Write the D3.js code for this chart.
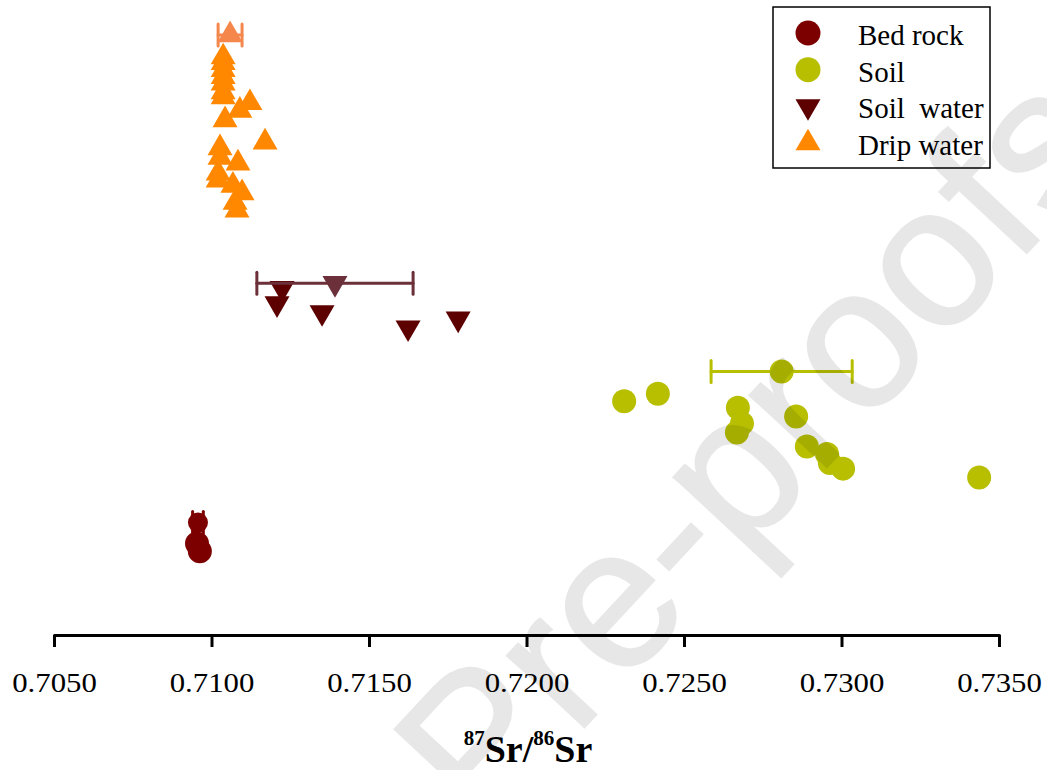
<!DOCTYPE html>
<html>
<head>
<meta charset="utf-8">
<script src="https://cdn.jsdelivr.net/npm/d3@7"></script>
<style>
    body { margin: 0; background: #fff; }
    svg text { font-family: "Liberation Serif", "Times New Roman", serif; }
</style>
</head>
<body>
<div id="wrapper"></div>
<script>
// 87Sr/86Sr ratios (x) and an arbitrary plotting level (y, 0 = axis, 100 = top)
const seriesNames = ['Bed rock', 'Soil', 'Soil  water', 'Drip water'];
const seriesColors = ['#7d0000', '#b7bf00', '#5c0000', '#ff8800'];
const meanColors = ['#7d0000', '#b7bf00', '#6b3039', '#f5874c'];

const bedRockRatio = [0.70954, 0.70963];
const bedRockLevel = [14.4, 13.2];

const soilRatio = [0.72310, 0.72417, 0.72671, 0.72684, 0.72668, 0.72856, 0.72890, 0.72954, 0.72963, 0.73005, 0.73437];
const soilLevel = [36.8, 38.0, 35.8, 33.3, 31.9, 34.4, 29.7, 28.5, 27.1, 26.2, 24.8];

const soilWaterRatio = [0.71224, 0.71208, 0.71351, 0.71624, 0.71783];
const soilWaterLevel = [54.6, 52.2, 50.8, 48.4, 49.8];

const dripRatio = [0.71037, 0.71037, 0.71037, 0.71037, 0.71037, 0.71037, 0.71037, 0.71122, 0.71090, 0.71043,
    0.71170, 0.71027, 0.71027, 0.71084, 0.71021, 0.71021, 0.71068, 0.71097, 0.71075, 0.71081];
const dripLevel = [91.0, 90.1, 89.0, 87.9, 86.9, 85.5, 84.7, 83.8, 82.6, 81.1,
    77.6, 76.7, 75.2, 74.3, 72.7, 71.6, 70.8, 69.6, 68.1, 66.9];

// group means with error (+/-) in the same order as seriesNames
const meanRatio = [0.70957, 0.72810, 0.71392, 0.71059];
const meanLevel = [17.7, 41.5, 55.4, 94.5];
const meanError = [0.00017, 0.00224, 0.00248, 0.00038];

const tickValues = [0.705, 0.710, 0.715, 0.720, 0.725, 0.730, 0.735];

// 1. Dimensions
const width = 1047;
const height = 770;
const axisY = 635;

const svg = d3.select('#wrapper')
    .append('svg')
    .attr('width', width)
    .attr('height', height);

// 2. Scales
const xScale = d3.scaleLinear()
    .domain([0.705, 0.735])
    .range([54, 999]);

const yScale = d3.scaleLinear()
    .domain([0, 100])
    .range([axisY, 0]);

const triUp = d3.symbol().type(d3.symbolTriangle).size(270);

// 3. Points
function drawPoints(xs, ys, color, shape) {
    const g = svg.append('g');
    xs.forEach((x, i) => {
        const px = xScale(x), py = yScale(ys[i]);
        if (shape === 'circle') {
            g.append('circle').attr('cx', px).attr('cy', py).attr('r', 12).attr('fill', color);
        } else {
            g.append('path')
                .attr('d', triUp())
                .attr('transform', `translate(${px},${py})` + (shape === 'down' ? ' rotate(180)' : ''))
                .attr('fill', color);
        }
    });
}

drawPoints(bedRockRatio, bedRockLevel, seriesColors[0], 'circle');
drawPoints(soilRatio, soilLevel, seriesColors[1], 'circle');
drawPoints(soilWaterRatio, soilWaterLevel, seriesColors[2], 'down');
drawPoints(dripRatio, dripLevel, seriesColors[3], 'up');

// 4. Means with error bars
const shapes = ['circle', 'circle', 'down', 'up'];
meanRatio.forEach((m, i) => {
    const y = yScale(meanLevel[i]);
    const x0 = xScale(m - meanError[i]);
    const x1 = xScale(m + meanError[i]);
    const g = svg.append('g')
        .attr('stroke', meanColors[i])
        .attr('stroke-width', 3)
        .attr('stroke-linecap', 'round');
    g.append('line').attr('x1', x0).attr('x2', x1).attr('y1', y).attr('y2', y);
    g.append('line').attr('x1', x0).attr('x2', x0).attr('y1', y - 11).attr('y2', y + 11);
    g.append('line').attr('x1', x1).attr('x2', x1).attr('y1', y - 11).attr('y2', y + 11);
    if (shapes[i] === 'circle') {
        svg.append('circle').attr('cx', xScale(m)).attr('cy', y).attr('r', i === 0 ? 10 : 12).attr('fill', meanColors[i]);
    } else {
        svg.append('path')
            .attr('d', triUp())
            .attr('transform', `translate(${xScale(m)},${y})` + (shapes[i] === 'down' ? ' rotate(180)' : ''))
            .attr('fill', meanColors[i]);
    }
});

// 5. Axis
const xAxis = svg.append('g')
    .attr('transform', `translate(0,${axisY})`)
    .call(d3.axisBottom(xScale)
        .tickValues(tickValues)
        .tickSize(12)
        .tickSizeOuter(12)
        .tickFormat(d3.format('.4f')));

xAxis.select('.domain')
    .attr('stroke', '#000')
    .attr('stroke-width', 3)
    .attr('stroke-linejoin', 'round');
xAxis.selectAll('.tick line')
    .attr('stroke', '#000')
    .attr('stroke-width', 3);
xAxis.selectAll('.tick text')
    .attr('y', 57)
    .attr('dy', 0)
    .attr('fill', '#000')
    .attr('font-size', 27)
    .attr('font-family', '"Liberation Serif", serif')
    .attr('transform', 'scale(1.14,1)');

// axis title
const title = svg.append('text')
    .attr('x', 528)
    .attr('y', 762)
    .attr('text-anchor', 'middle')
    .attr('font-weight', 'bold')
    .attr('font-size', 38);
title.append('tspan').attr('font-size', 21).attr('dy', -17).text('87');
title.append('tspan').attr('dy', 17).text('Sr/');
title.append('tspan').attr('font-size', 21).attr('dy', -17).text('86');
title.append('tspan').attr('dy', 17).text('Sr');

// 6. Legend
const legend = svg.append('g');
legend.append('rect')
    .attr('x', 773).attr('y', 7)
    .attr('width', 217).attr('height', 161)
    .attr('fill', 'none')
    .attr('stroke', '#000')
    .attr('stroke-width', 1.5);

const legendShapes = ['circle', 'circle', 'down', 'up'];
seriesNames.forEach((name, i) => {
    const cy = 33 + i * 36.7;
    if (legendShapes[i] === 'circle') {
        legend.append('circle').attr('cx', 808).attr('cy', cy).attr('r', 12.5).attr('fill', seriesColors[i]);
    } else {
        legend.append('path')
            .attr('d', triUp())
            .attr('transform', `translate(808,${cy})` + (legendShapes[i] === 'down' ? ' rotate(180)' : ''))
            .attr('fill', seriesColors[i]);
    }
    legend.append('text')
        .attr('x', 858)
        .attr('y', cy + 12)
        .attr('font-size', 29)
        .style('white-space', 'pre')
        .text(name);
});

// 7. Watermark
svg.append('text')
    .attr('transform', 'translate(484,835) rotate(-47)')
    .attr('text-anchor', 'start')
    .attr('font-size', 200)
    .attr('fill', '#000')
    .attr('stroke', '#000')
    .attr('stroke-width', 2)
    .attr('opacity', 0.09)
    .style('font-family', '"Liberation Sans", Arial, sans-serif')
    .text('Pre-proofs');
</script>
</body>
</html>
